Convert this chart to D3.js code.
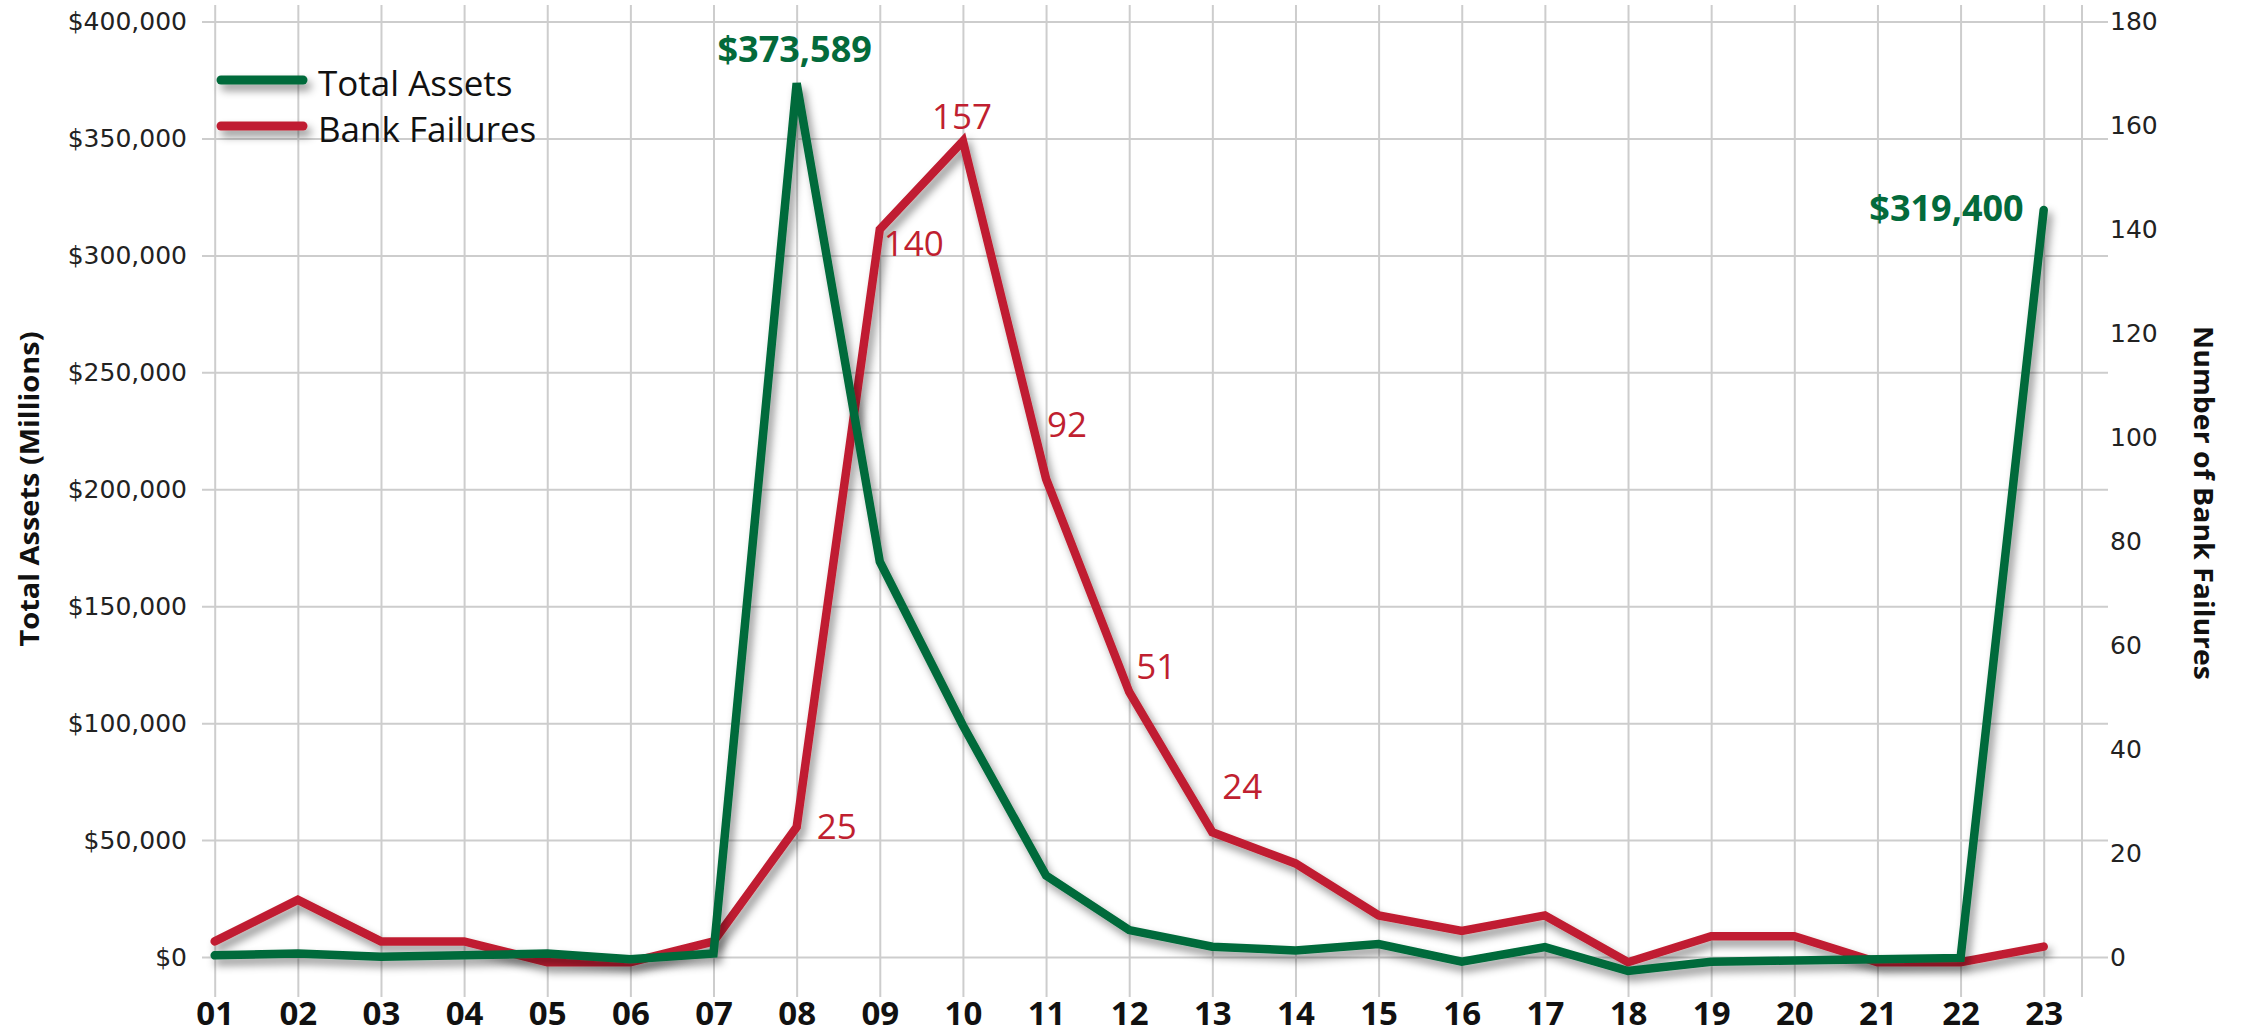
<!DOCTYPE html>
<html>
<head>
<meta charset="utf-8">
<script src="https://cdn.jsdelivr.net/npm/d3@7"></script>
<style>
  html, body { margin: 0; padding: 0; background: #fff; }
  svg { display: block; }
  .tick-label { font-family: "DejaVu Sans", Verdana, sans-serif; font-size: 25px; fill: #222; }
</style>
</head>
<body>
<svg id="chart" width="2244" height="1035"></svg>
<script>
// Year labels (2001 – 2023)
const years = ["01","02","03","04","05","06","07","08","09","10","11","12",
               "13","14","15","16","17","18","19","20","21","22","23"];

// Total assets of failed banks, $ millions
const totalAssets = [700, 1500, 100, 700, 1500, -1000, 1500, 373589, 169000, 99000,
                     34800, 11500, 4400, 2800, 5500, -2000, 4200, -6000, -2000,
                     -1500, -1000, -400, 319400];

// Number of bank failures
const bankFailures = [3, 11, 3, 3, -1, -1, 3, 25, 140, 157, 92, 51, 24, 18, 8, 5, 8,
                      -1, 4, 4, -1, -1, 2];

// Tick values for both value axes
const assetTicks = [0, 50000, 100000, 150000, 200000, 250000, 300000, 350000, 400000];
const failureTicks = [0, 20, 40, 60, 80, 100, 120, 140, 160, 180];

// Annotated points
const assetCallouts = ["08", "23"];
const failureCallouts = ["08", "09", "10", "11", "12", "13"];

// Label placement relative to each annotated point: [dx, dy, anchor]
const assetLabelPlacement = { "08": [-2, -21, "middle"], "23": [-20, 11, "end"] };
const failureLabelPlacement = {
  "08": [20, 12, "start"], "09": [4, 27, "start"], "10": [-1, -12, "middle"],
  "11": [1, -42, "start"], "12": [7, -13, "start"], "13": [10, -33, "start"]
};

const GREEN = "#036a3b";
const RED = "#c01f30";

const svg = d3.select("#chart");

const plotLeft = 202, gridRight = 2108, axisRightX = 2082;
const plotTop = 5, plotBottom = 997;

const x = d3.scalePoint().domain(years).range([214.7, 2043.7]);
const yAssets = d3.scaleLinear().domain([0, 400000]).range([957, 21.5]);
const yFailures = d3.scaleLinear().domain([0, 180]).range([957, 21.5]);

// Drop shadow used by the lines (user-space region so flat legend strokes keep it)
const defs = svg.append("defs");
const f = defs.append("filter").attr("id", "shadow")
  .attr("filterUnits", "userSpaceOnUse")
  .attr("x", -400).attr("y", -400).attr("width", 3200).attr("height", 2000);
f.append("feDropShadow").attr("dx", 4).attr("dy", 6).attr("stdDeviation", 4)
  .attr("flood-color", "#000").attr("flood-opacity", 0.42);

// Vertical grid + year labels
const xAxis = svg.append("g").attr("transform", `translate(0,${plotBottom})`)
  .call(d3.axisBottom(x).tickSizeInner(-(plotBottom - plotTop)).tickSizeOuter(0).tickPadding(5));
xAxis.select(".domain").remove();
xAxis.selectAll(".tick line").attr("stroke", "#cdcdcd").attr("stroke-width", 2);
xAxis.selectAll(".tick text")
  .attr("font-family", "'Open Sans', sans-serif").attr("font-weight", 700)
  .attr("font-size", 33).attr("fill", "#111");
xAxis.attr("font-family", null).attr("font-size", null);

// Horizontal grid + asset labels
const yAxisL = svg.append("g").attr("transform", `translate(${plotLeft},0)`)
  .call(d3.axisLeft(yAssets).tickValues(assetTicks)
    .tickFormat(d => "$" + d3.format(",")(d))
    .tickSizeInner(-(gridRight - plotLeft)).tickSizeOuter(0).tickPadding(15));
yAxisL.select(".domain").remove();
yAxisL.selectAll(".tick line").attr("stroke", "#cdcdcd").attr("stroke-width", 2);
yAxisL.selectAll(".tick text").attr("class", "tick-label")
  .attr("font-family", null).attr("font-size", null).attr("fill", null);

// Failure labels on the right
const yAxisR = svg.append("g").attr("transform", `translate(${gridRight},0)`)
  .call(d3.axisRight(yFailures).tickValues(failureTicks).tickSize(0).tickPadding(2));
yAxisR.select(".domain").remove();
yAxisR.selectAll(".tick text").attr("class", "tick-label")
  .attr("font-family", null).attr("font-size", null).attr("fill", null);
yAxisL.attr("font-family", null).attr("font-size", null);
yAxisR.attr("font-family", null).attr("font-size", null);

// Right axis rule
svg.append("line").attr("x1", axisRightX).attr("x2", axisRightX)
  .attr("y1", plotTop).attr("y2", plotBottom)
  .attr("stroke", "#cdcdcd").attr("stroke-width", 2);

// Axis titles
svg.append("text")
  .attr("transform", "translate(29,489) rotate(-90)")
  .attr("text-anchor", "middle").attr("dominant-baseline", "central")
  .attr("font-family", "'Open Sans', sans-serif").attr("font-weight", 700)
  .attr("font-size", 26).attr("fill", "#111")
  .attr("textLength", 315).attr("lengthAdjust", "spacingAndGlyphs")
  .text("Total Assets (Millions)");

svg.append("text")
  .attr("transform", "translate(2204,503) rotate(90)")
  .attr("text-anchor", "middle").attr("dominant-baseline", "central")
  .attr("font-family", "'Open Sans', sans-serif").attr("font-weight", 700)
  .attr("font-size", 26).attr("fill", "#111")
  .attr("textLength", 354).attr("lengthAdjust", "spacingAndGlyphs")
  .text("Number of Bank Failures");

// Lines
const assetLine = d3.line().x((d, i) => x(years[i])).y(d => yAssets(d));
const failureLine = d3.line().x((d, i) => x(years[i])).y(d => yFailures(d));

svg.append("path").datum(bankFailures)
  .attr("d", failureLine).attr("fill", "none")
  .attr("stroke", RED).attr("stroke-width", 8.5)
  .attr("stroke-linejoin", "miter").attr("stroke-linecap", "round")
  .attr("filter", "url(#shadow)");

svg.append("path").datum(totalAssets)
  .attr("d", assetLine).attr("fill", "none")
  .attr("stroke", GREEN).attr("stroke-width", 8.5)
  .attr("stroke-linejoin", "miter").attr("stroke-linecap", "round")
  .attr("filter", "url(#shadow)");

// Value callouts
assetCallouts.forEach(yr => {
  const i = years.indexOf(yr);
  const [dx, dy, anchor] = assetLabelPlacement[yr];
  svg.append("text")
    .attr("x", x(yr) + dx).attr("y", yAssets(totalAssets[i]) + dy)
    .attr("text-anchor", anchor)
    .attr("font-family", "'Open Sans', sans-serif").attr("font-weight", 700)
    .attr("font-size", 36).attr("fill", GREEN)
    .text("$" + d3.format(",")(totalAssets[i]));
});

failureCallouts.forEach(yr => {
  const i = years.indexOf(yr);
  const [dx, dy, anchor] = failureLabelPlacement[yr];
  svg.append("text")
    .attr("x", x(yr) + dx).attr("y", yFailures(bankFailures[i]) + dy)
    .attr("text-anchor", anchor)
    .attr("font-family", "'Open Sans', sans-serif").attr("font-weight", 400)
    .attr("font-size", 35).attr("fill", RED)
    .text(bankFailures[i]);
});

// Legend
const legendItems = [
  { name: "Total Assets", color: GREEN },
  { name: "Bank Failures", color: RED }
];
const legend = svg.append("g").attr("transform", "translate(221,80)");
legendItems.forEach((item, k) => {
  const g = legend.append("g").attr("transform", `translate(0,${k * 46})`);
  g.append("line").attr("x1", 0).attr("x2", 82).attr("y1", 0).attr("y2", 0)
    .attr("stroke", item.color).attr("stroke-width", 9).attr("stroke-linecap", "round")
    .attr("filter", "url(#shadow)");
  g.append("text").attr("x", 97).attr("y", 2)
    .attr("dominant-baseline", "central")
    .attr("font-family", "'Open Sans', sans-serif").attr("font-weight", 400)
    .attr("font-size", 35).attr("fill", "#111")
    .text(item.name);
});
</script>
</body>
</html>
